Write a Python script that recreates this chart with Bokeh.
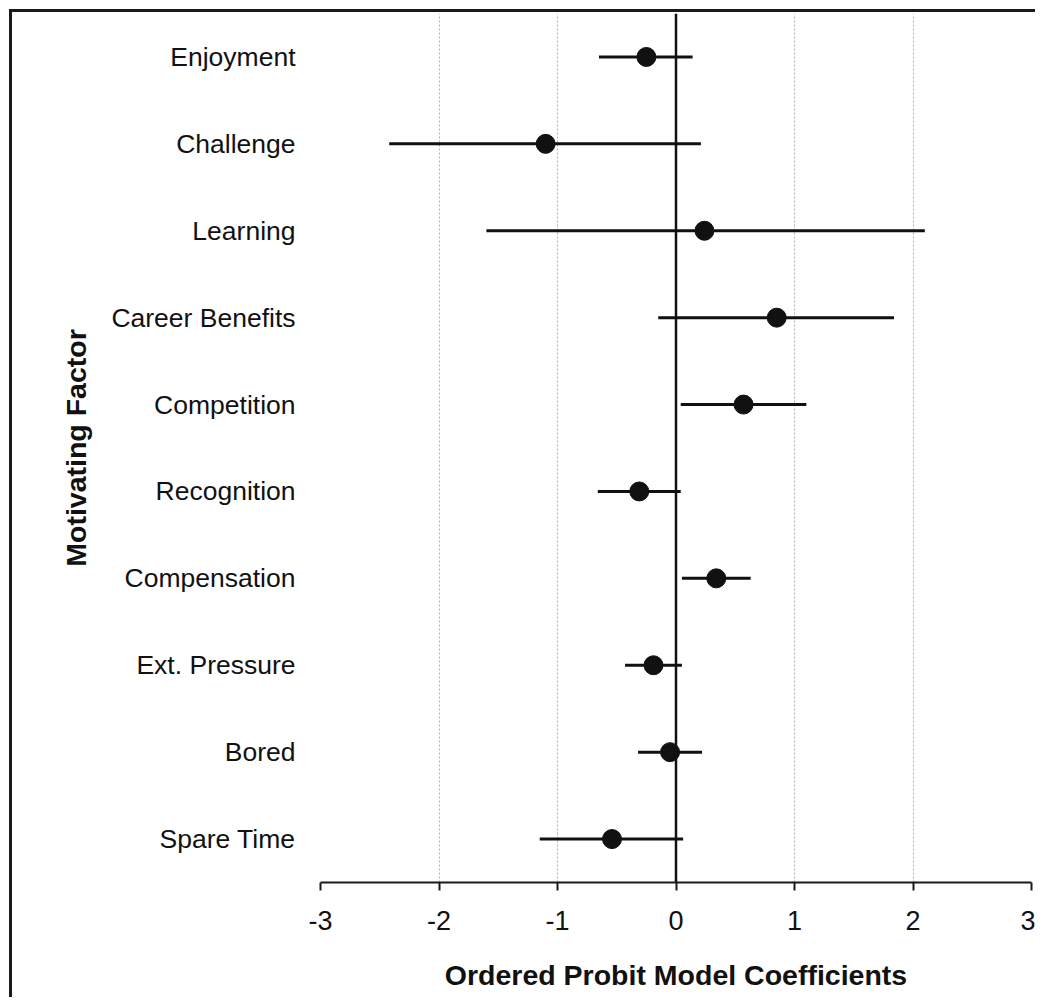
from bokeh.plotting import figure
from bokeh.models import Span, FixedTicker, ColumnDataSource
from bokeh.embed import file_html
from bokeh.resources import INLINE

categories = ["Enjoyment", "Challenge", "Learning", "Career Benefits", "Competition",
              "Recognition", "Compensation", "Ext. Pressure", "Bored", "Spare Time"]
coef = [-0.25, -1.10, 0.24, 0.85, 0.57, -0.31, 0.34, -0.19, -0.05, -0.54]
lower = [-0.65, -2.42, -1.60, -0.15, 0.04, -0.66, 0.05, -0.43, -0.32, -1.15]
upper = [0.14, 0.21, 2.10, 1.84, 1.10, 0.04, 0.63, 0.05, 0.22, 0.06]
x_ticks = [-3, -2, -1, 0, 1, 2, 3]
x_tick_labels = ["-3", "-2", "-1", "0", "1", "2", "3"]

src = ColumnDataSource(dict(cat=categories, coef=coef, lower=lower, upper=upper))

FONT = "Liberation Sans"

p = figure(width=1026, height=988, y_range=list(reversed(categories)), x_range=(-3, 3),
           output_backend="svg", toolbar_location=None,
           min_border_left=308, min_border_top=1, min_border_right=7, min_border_bottom=118)
p.styles = {"border-top": "3px solid #1a1a1a", "border-left": "3px solid #1a1a1a",
            "margin-top": "9px", "margin-left": "9px"}
p.outline_line_color = None
p.background_fill_color = "white"
p.border_fill_color = "white"

# grid
p.ygrid.grid_line_color = None
p.xgrid.grid_line_color = "#b0b0b0"
p.xgrid.grid_line_dash = "2 2"
p.xgrid.grid_line_width = 1

# x axis
p.xaxis.ticker = FixedTicker(ticks=x_ticks)
p.xaxis.major_label_overrides = dict(zip(x_ticks, x_tick_labels))
p.xaxis.axis_line_width = 2
p.xaxis.axis_line_color = "#1a1a1a"
p.xaxis.major_tick_line_width = 2
p.xaxis.major_tick_line_color = "#1a1a1a"
p.xaxis.major_tick_out = 8
p.xaxis.major_tick_in = 0
p.xaxis.minor_tick_line_color = None
p.xaxis.major_label_text_font = FONT
p.xaxis.major_label_text_font_size = "27px"
p.xaxis.major_label_text_color = "#111111"
p.xaxis.major_label_standoff = 20
p.xaxis.axis_label = "Ordered Probit Model Coefficients"
p.xaxis.axis_label_text_font = FONT
p.xaxis.axis_label_text_font_style = "bold"
p.xaxis.axis_label_text_font_size = "28.5px"
p.xaxis.axis_label_text_color = "#111111"
p.xaxis.axis_label_standoff = 26

# y axis
p.yaxis.axis_line_color = None
p.yaxis.major_tick_line_color = None
p.yaxis.minor_tick_line_color = None
p.yaxis.major_label_text_font = FONT
p.yaxis.major_label_text_font_size = "26.5px"
p.yaxis.major_label_text_color = "#111111"
p.yaxis.major_label_standoff = 19
p.yaxis.axis_label = "Motivating Factor"
p.yaxis.axis_label_text_font = FONT
p.yaxis.axis_label_text_font_style = "bold"
p.yaxis.axis_label_text_font_size = "28.5px"
p.yaxis.axis_label_text_color = "#111111"
p.yaxis.axis_label_standoff = 16

# zero line
p.add_layout(Span(location=0, dimension="height", line_color="#111111", line_width=2.5))

# error bars and points
p.segment(x0="lower", y0="cat", x1="upper", y1="cat", source=src,
          line_color="#111111", line_width=3)
p.scatter(x="coef", y="cat", source=src, size=19, fill_color="#111111",
          line_color="#111111")

open("out.html", "w").write(file_html(p, INLINE))
